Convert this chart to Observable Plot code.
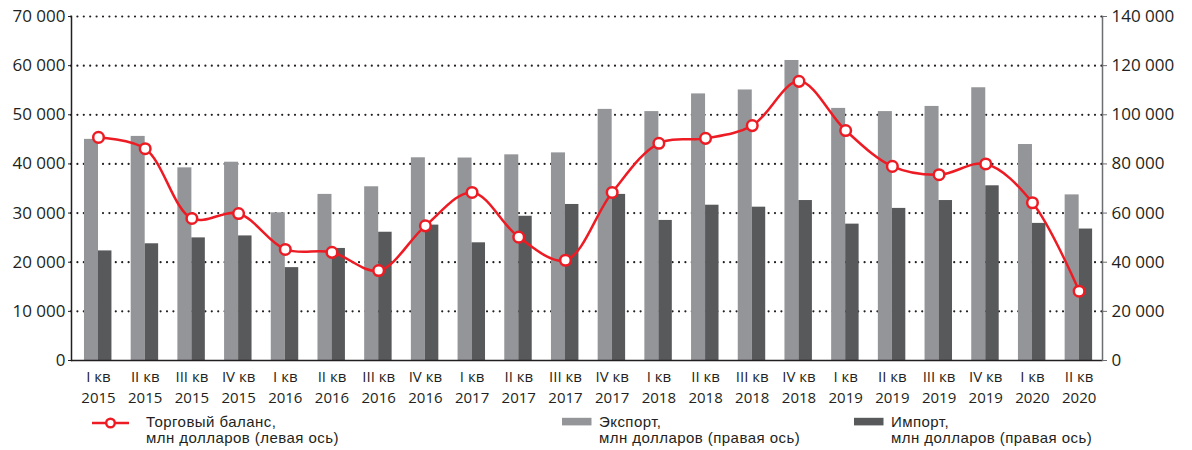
<!DOCTYPE html>
<html>
<head>
<meta charset="utf-8">
<script src="https://cdn.jsdelivr.net/npm/d3@7"></script>
<script src="https://cdn.jsdelivr.net/npm/@observablehq/plot@0.6"></script>
<style>
  html, body { margin: 0; padding: 0; background: #fff; }
  #wrap { width: 1192px; height: 450px; position: relative; }
  #wrap svg { display: block; }
</style>
</head>
<body>
<div id="wrap"></div>
<script>
const quarters = ["I кв","II кв","III кв","IV кв","I кв","II кв","III кв","IV кв","I кв","II кв","III кв","IV кв","I кв","II кв","III кв","IV кв","I кв","II кв","III кв","IV кв","I кв","II кв"];
const years = ["2015","2015","2015","2015","2016","2016","2016","2016","2017","2017","2017","2017","2018","2018","2018","2018","2019","2019","2019","2019","2020","2020"];
// Торговый баланс, млн долларов (левая ось)
const balance = [45400, 43100, 28900, 29900, 22600, 22000, 18300, 27400, 34200, 25100, 20400, 34200, 44200, 45200, 47800, 56800, 46800, 39500, 37800, 40000, 32100, 14100];
// Экспорт, млн долларов (правая ось)
const exportVals = [90000, 91200, 78400, 80700, 60100, 67600, 70700, 82500, 82400, 83700, 84500, 102200, 101300, 108500, 110100, 122100, 102600, 101300, 103400, 111000, 87900, 67400];
// Импорт, млн долларов (правая ось)
const importVals = [44600, 47500, 49900, 50700, 37800, 45600, 52200, 55100, 47900, 58700, 63500, 67600, 57000, 63200, 62400, 65100, 55500, 61900, 65100, 71100, 55800, 53500];
const rightTicks = [0, 20000, 40000, 60000, 80000, 100000, 120000, 140000];

const data = quarters.map((q, i) => ({i, q, year: years[i], balance: balance[i], exp: exportVals[i], imp: importVals[i]}));

const fmt = v => d3.format(",")(v).replace(/,/g, " ");
const RED = "#ed1c24", EXP = "#939598", IMP = "#58595b", INK = "#231f20";
const BW = 0.3; // bar width in category units

const chart = Plot.plot({
  width: 1192,
  height: 410,
  marginLeft: 71,
  marginRight: 90,
  marginTop: 16,
  marginBottom: 50,
  style: {fontFamily: "'Open Sans', sans-serif", fontSize: "15px", color: INK, background: "#fff"},
  x: {type: "linear", domain: [-0.578, 21.5], axis: null},
  y: {domain: [0, 140000], axis: null},
  marks: [
    Plot.ruleY(rightTicks.slice(1), {stroke: INK, strokeWidth: 2.2, strokeDasharray: "0,6.4", strokeLinecap: "round"}),
    Plot.rectY(data, {x1: d => d.i - BW, x2: d => d.i, y: "exp", fill: EXP}),
    Plot.rectY(data, {x1: d => d.i, x2: d => d.i + BW * 0.96, y: "imp", fill: IMP}),
    Plot.ruleY([0], {stroke: INK, strokeWidth: 1.5}),
    Plot.frame({anchor: "left", stroke: INK, strokeWidth: 1.5}),
    Plot.frame({anchor: "right", stroke: "#6d6e71", strokeWidth: 1.5}),
    Plot.axisY(rightTicks, {anchor: "left", tickFormat: d => fmt(d / 2), tickSize: 3, tickPadding: 3, fontSize: 17, stroke: INK, label: null}),
    Plot.axisY(rightTicks, {anchor: "right", tickFormat: d => fmt(d), tickSize: 4, tickPadding: 5, fontSize: 17, stroke: "#6d6e71", label: null}),
    Plot.axisX(data.map(d => d.i), {tickFormat: i => data[i].q, tickSize: 0, tickPadding: 11, fontSize: 15, label: null}),
    Plot.axisX(data.map(d => d.i), {tickFormat: i => data[i].year, tickSize: 0, tickPadding: 32, fontSize: 15, label: null}),
    Plot.lineY(data, {x: "i", y: d => d.balance * 2, curve: "catmull-rom", stroke: RED, strokeWidth: 2.5}),
    Plot.dot(data, {x: "i", y: d => d.balance * 2, r: 5.3, fill: "#fff", stroke: RED, strokeWidth: 2.5})
  ]
});

const wrap = document.getElementById("wrap");
wrap.appendChild(chart);

// Legend (below the chart)
const leg = d3.create("svg").attr("width", 1192).attr("height", 40)
  .style("font-family", "'Liberation Sans', Arial, sans-serif").style("font-size", "15px").style("letter-spacing", "0.45px");
leg.append("line").attr("x1", 92).attr("x2", 129).attr("y1", 13).attr("y2", 13).attr("stroke", RED).attr("stroke-width", 2.5);
leg.append("circle").attr("cx", 110.5).attr("cy", 13).attr("r", 4.3).attr("fill", "#fff").attr("stroke", RED).attr("stroke-width", 2.4);
const items = [
  {x: 146, l1: "Торговый баланс,", l2: "млн долларов (левая ось)"},
  {x: 599, l1: "Экспорт,", l2: "млн долларов (правая ось)", sw: 562, c: EXP},
  {x: 891, l1: "Импорт,", l2: "млн долларов (правая ось)", sw: 854, c: IMP}
];
for (const it of items) {
  if (it.sw) leg.append("rect").attr("x", it.sw).attr("y", 7.8).attr("width", 29.5).attr("height", 7.6).attr("fill", it.c);
  leg.append("text").attr("fill", INK).attr("x", it.x).attr("y", 16.6).text(it.l1);
  leg.append("text").attr("fill", INK).attr("x", it.x).attr("y", 33.4).text(it.l2);
}
wrap.appendChild(leg.node());
</script>
</body>
</html>
